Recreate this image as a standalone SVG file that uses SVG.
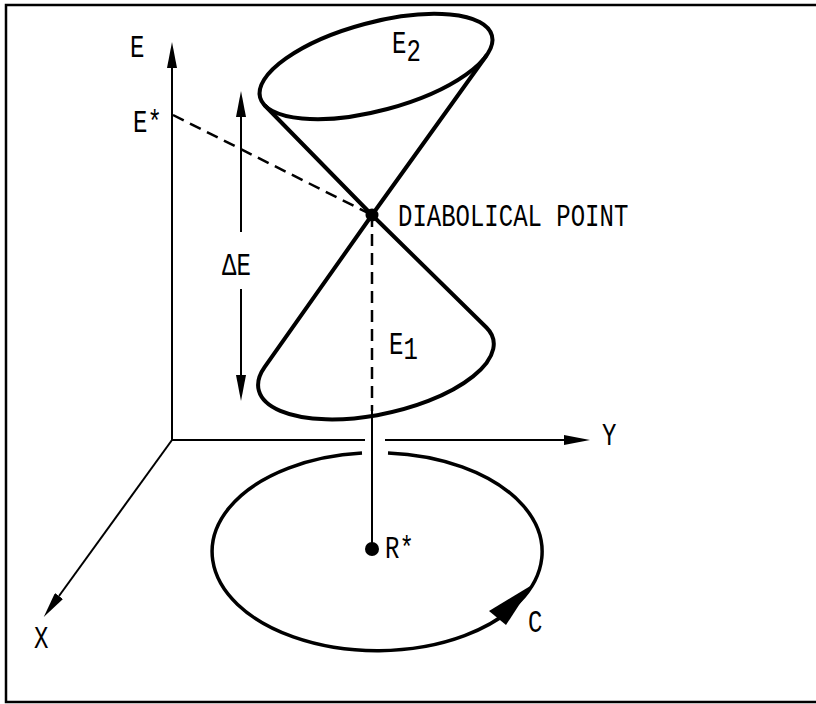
<svg xmlns="http://www.w3.org/2000/svg" width="816" height="704" viewBox="0 0 816 704">
  <style>
    .t { font-family: "Liberation Mono", "DejaVu Sans Mono", monospace; font-size: 24px; fill: #000; }
    .thin { fill: none; stroke: #000; stroke-width: 2; }
    .thick { fill: none; stroke: #000; stroke-width: 4; stroke-linejoin: round; stroke-linecap: round; }
    .dash { fill: none; stroke: #000; stroke-width: 2.5; stroke-dasharray: 12 7; }
  </style>
  <defs>
    <marker id="ah" viewBox="0 0 26 10" refX="0" refY="5" markerWidth="26" markerHeight="10" markerUnits="userSpaceOnUse" orient="auto">
      <path d="M0,0 L26,5 L0,10 Z" fill="#000"/>
    </marker>
  </defs>
  <rect width="816" height="704" fill="#fff"/>

  <g id="frame">
    <path d="M816,5 H6 V702 H816" fill="none" stroke="#000" stroke-width="2.5"/>
  </g>

  <g id="connectors">
    <!-- axes -->
    <line class="thin" x1="172" y1="440" x2="172" y2="68" marker-end="url(#ah)"/>
    <line class="thin" x1="172" y1="440" x2="365" y2="440"/>
    <line class="thin" x1="385" y1="440" x2="564" y2="440" marker-end="url(#ah)"/>
    <line class="thin" x1="172" y1="440" x2="59" y2="596" marker-end="url(#ah)"/>
    <!-- delta E arrows -->
    <line class="thin" x1="241" y1="232" x2="241" y2="117" marker-end="url(#ah)"/>
    <line class="thin" x1="241" y1="289" x2="241" y2="375" marker-end="url(#ah)"/>
    <!-- dashed projections -->
    <line class="dash" x1="173" y1="115" x2="372" y2="215"/>
    <line class="dash" x1="372" y1="215" x2="372" y2="411"/>
    <!-- solid vertical to R* -->
    <line x1="372" y1="411" x2="372" y2="549" stroke="#000" stroke-width="2"/>
  </g>

  <g id="upper-cone">
    <ellipse class="thick" cx="376" cy="66.5" rx="120" ry="44" transform="rotate(-15 376 66.5)"/>
    <path class="thick" d="M264.8,105.5 L372,215 L486.5,55.5"/>
  </g>

  <g id="lower-cone">
    <path class="thick" d="M264.6,367.2 L372,215 L486.4,327.5 A120,50 -12 1 1 264.6,367.2"/>
  </g>

  <g id="diabolical-point">
    <circle cx="372" cy="215" r="6.5" fill="#000"/>
  </g>

  <g id="loop-C">
    <path d="M388,452.9 A165,99 0 1 1 362,453.1" fill="none" stroke="#000" stroke-width="3.5"/>
    <polygon points="532,585 489,611 506,625" fill="#000"/>
  </g>

  <g id="R-star">
    <circle cx="372" cy="549" r="7" fill="#000"/>
  </g>

  <g id="labels">
    <text class="t" transform="translate(130,57) scale(1,1.28)">E</text>
    <text class="t" transform="translate(133,132) scale(1,1.28)">E*</text>
    <text class="t" transform="translate(392,53) scale(1,1.28)">E<tspan dy="6">2</tspan></text>
    <text class="t" transform="translate(389,354) scale(1,1.28)">E<tspan dy="4">1</tspan></text>
    <text class="t" transform="translate(222,275) scale(1,1.28)">ΔE</text>
    <text class="t" transform="translate(398,226) scale(1,1.28)">DIABOLICAL POINT</text>
    <text class="t" transform="translate(385,558) scale(1,1.28)">R*</text>
    <text class="t" transform="translate(528,632) scale(1,1.28)">C</text>
    <text class="t" transform="translate(34,648) scale(1,1.28)">X</text>
    <text class="t" transform="translate(602,445) scale(1,1.28)">Y</text>
  </g>
</svg>
